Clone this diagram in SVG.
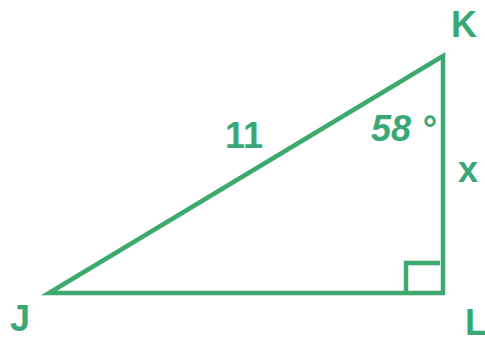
<svg xmlns="http://www.w3.org/2000/svg" width="485" height="337" viewBox="0 0 485 337">
<style>
.edge{fill:none;stroke:#3ea96f;stroke-width:4.5;stroke-linejoin:miter}
.lbl{font-family:"Liberation Sans",Arial,sans-serif;font-weight:bold;font-size:36px;fill:#3aa874}
</style>
<rect width="485" height="337" fill="#ffffff"/>
<g id="connectors">
<path class="edge" d="M49 293 L443 56 L443 293 Z"/>
<path class="edge" d="M406 293 L406 263 L440 263"/>
</g>
<g id="J"><text class="lbl" x="10" y="331">J</text></g>
<g id="K"><text class="lbl" x="451" y="37">K</text></g>
<g id="L"><text class="lbl" x="465" y="335">L</text></g>
<g id="side-JK"><text class="lbl" x="225" y="148">11</text></g>
<g id="side-KL"><text class="lbl" x="458" y="182">x</text></g>
<g id="angle-K"><text class="lbl" x="371" y="141" font-style="italic">58 °</text></g>
</svg>
